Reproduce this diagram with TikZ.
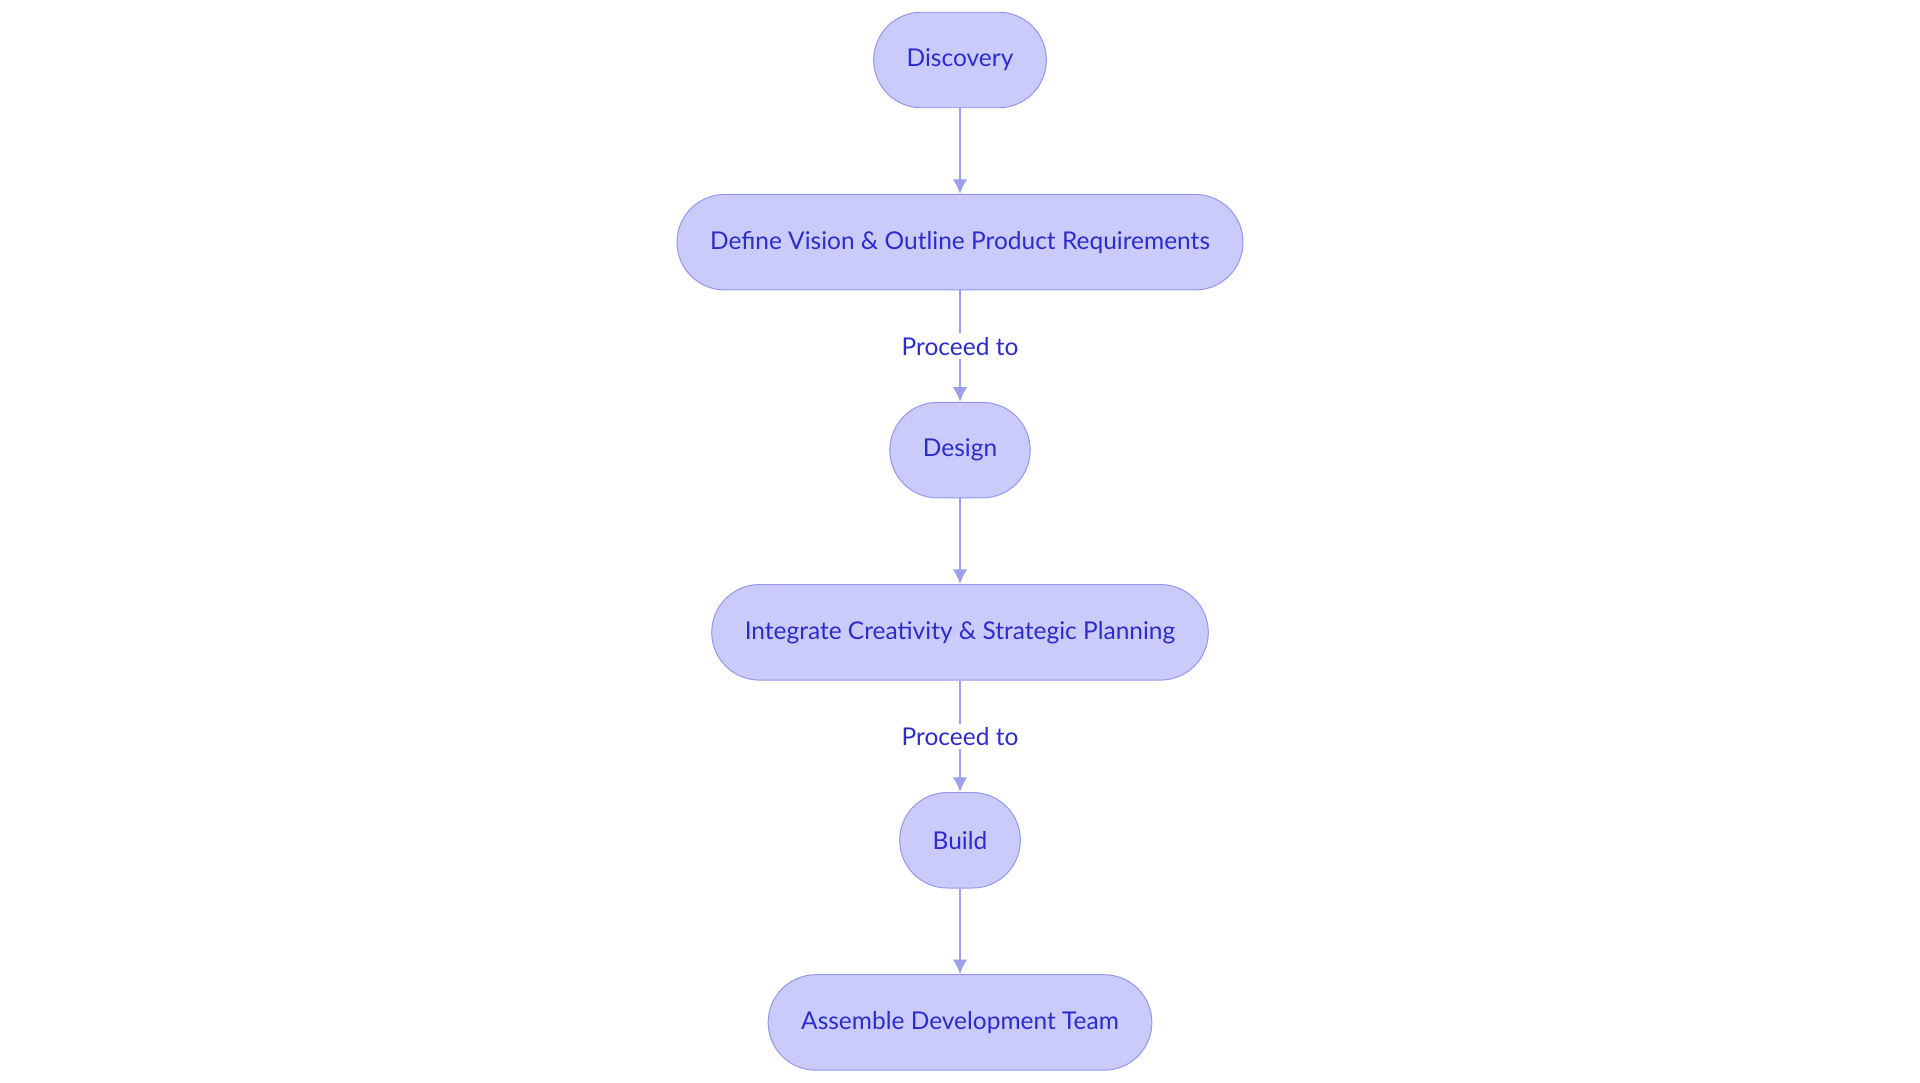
\documentclass[tikz,border=0pt]{standalone}
\usepackage{fontspec}
\setmainfont{Lato}
\usetikzlibrary{positioning,arrows.meta}
\definecolor{stepfill}{HTML}{CACBFB}
\definecolor{stepline}{HTML}{9396EE}
\definecolor{steptext}{HTML}{2C2CCB}
\definecolor{arrowcol}{HTML}{9C9FEB}
\tikzset{
  phase/.style={draw=stepline, fill=stepfill, text=steptext, rounded corners=19.5pt,
    minimum height=39pt, inner xsep=13.5pt, font=\fontsize{10}{12}\selectfont},
  flow/.style={draw=arrowcol, line width=1pt, -{Latex[length=6pt,width=6pt]}},
  tag/.style={fill=white, text=steptext, font=\fontsize{10}{12}\selectfont, inner sep=1.5pt}
}
\begin{document}
\begin{tikzpicture}[x=0.5pt,y=-0.5pt]
  \useasboundingbox (0,0) rectangle (1568,884);
  % Steps
  \node[phase] (discovery) at (784,49) {Discovery};
  \node[phase, below=35pt of discovery] (vision) {Define Vision \& Outline Product Requirements};
  \node[phase, below=45.5pt of vision] (design) {Design};
  \node[phase, below=35pt of design] (integrate) {Integrate Creativity \& Strategic Planning};
  \node[phase, below=45.5pt of integrate] (build) {Build};
  \node[phase, below=35pt of build] (team) {Assemble Development Team};

  % Connectors
  \draw[flow] (discovery) -- (vision);
  \draw[flow] (vision) -- node[tag] {Proceed to} (design);
  \draw[flow] (design) -- (integrate);
  \draw[flow] (integrate) -- node[tag] {Proceed to} (build);
  \draw[flow] (build) -- (team);
\end{tikzpicture}
\end{document}
